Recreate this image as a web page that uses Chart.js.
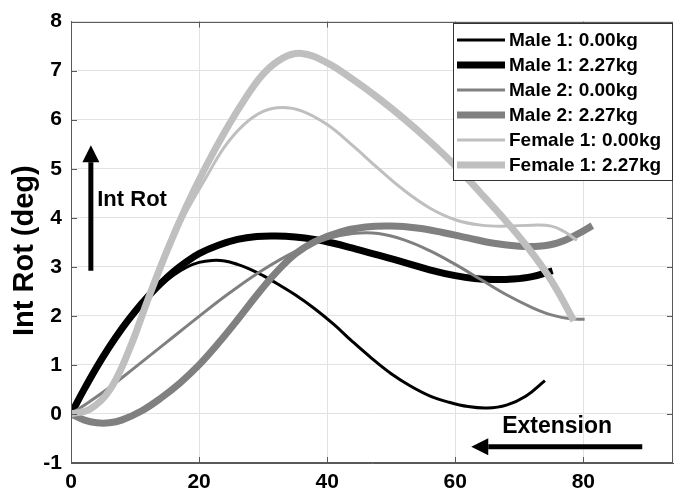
<!DOCTYPE html>
<html><head><meta charset="utf-8">
<script src="https://cdn.jsdelivr.net/npm/chart.js@4/dist/chart.umd.min.js"></script>
<style>html,body{margin:0;padding:0;background:#fff}#wrap{width:683px;height:496px}</style>
</head><body><div id="wrap"><canvas id="c" width="683" height="496"></canvas></div>
<script>
// ---- data ----
const seriesLabels = ['Male 1: 0.00kg','Male 1: 2.27kg','Male 2: 0.00kg','Male 2: 2.27kg','Female 1: 0.00kg','Female 1: 2.27kg'];
const yAxisTitle = 'Int Rot (deg)';

const male1_0_x = [0,2,4,6,8,10,12,14,16,18,20,22,24,26,28,30,32,35,38,41,44,47,50,53,56,59,62,65,68,71,74];
const male1_0_y = [0,0.47,0.92,1.34,1.72,2.06,2.36,2.62,2.83,2.99,3.09,3.13,3.12,3.05,2.95,2.82,2.67,2.43,2.15,1.83,1.47,1.13,0.82,0.57,0.37,0.24,0.15,0.12,0.18,0.36,0.68];

const male1_227_x = [0,2,4,6,8,10,12,14,16,18,20,23,26,29,32,35,38,41,44,48,52,56,60,63,66,69,72,75.2];
const male1_227_y = [0,0.49,0.95,1.37,1.75,2.09,2.39,2.66,2.9,3.1,3.27,3.44,3.56,3.62,3.63,3.61,3.56,3.48,3.38,3.24,3.09,2.94,2.82,2.76,2.74,2.75,2.8,2.92];

const male2_0_x = [0,3,6,10,15,20,25,30,35,40,44,48,52,56,60,64,68,72,75,78,80.2];
const male2_0_y = [0,0.26,0.54,0.95,1.47,1.99,2.49,2.94,3.31,3.57,3.68,3.68,3.55,3.33,3.05,2.74,2.43,2.17,2.02,1.94,1.93];

const male2_227_x = [0,2,4,6,8,11,14,17,20,23,26,29,32,35,38,42,46,50,54,58,62,66,70,73,76,79,81.4];
const male2_227_y = [0,-0.12,-0.18,-0.18,-0.12,0.06,0.32,0.63,1.0,1.44,1.92,2.42,2.88,3.26,3.51,3.71,3.81,3.83,3.79,3.7,3.59,3.48,3.42,3.42,3.49,3.66,3.84];

const female1_0_x = [0,3,6,9,12,15,18,21,24,27,30,33,36,40,44,48,52,56,60,64,68,72,75,77,79];
const female1_0_y = [0,0.1,0.48,1.28,2.33,3.33,4.12,4.8,5.45,5.9,6.17,6.25,6.18,5.9,5.47,5.0,4.56,4.2,3.96,3.85,3.83,3.85,3.83,3.72,3.54];

const female1_227_x = [0,3,6,9,12,15,18,21,24,27,30,33,36,40,44,48,52,56,60,64,68,71,74,76,78.5];
const female1_227_y = [0,0.1,0.48,1.28,2.33,3.33,4.23,5.03,5.75,6.39,6.93,7.25,7.35,7.16,6.82,6.44,6.02,5.56,5.06,4.5,3.92,3.45,2.92,2.5,1.9];

const xTicks = [0,20,40,60,80];
const yTicks = [-1,0,1,2,3,4,5,6,7,8];

// ---- styling ----
const FONT = "'Liberation Sans', Arial, Helvetica, sans-serif";
const seriesX = [male1_0_x, male1_227_x, male2_0_x, male2_227_x, female1_0_x, female1_227_x];
const seriesY = [male1_0_y, male1_227_y, male2_0_y, male2_227_y, female1_0_y, female1_227_y];
const colors = ['#000000','#000000','#808080','#808080','#bfbfbf','#bfbfbf'];
const widths = [3,7,3,7,3,7];

const datasets = seriesLabels.map((lab,i)=>({
  label: lab,
  data: seriesX[i].map((xv,j)=>({x:xv, y:seriesY[i][j]})),
  borderColor: colors[i],
  backgroundColor: colors[i],
  borderWidth: widths[i],
  pointRadius: 0,
  tension: 0.4,
  fill: false,
  order: 6 - i,
  borderCapStyle: 'butt',
  borderJoinStyle: 'round'
}));

function arrow(ctx, x0, y0, x1, y1, shaft, headLen, headHalf){
  const ang = Math.atan2(y1-y0, x1-x0);
  const bx = x1 - Math.cos(ang)*headLen, by = y1 - Math.sin(ang)*headLen;
  ctx.save();
  ctx.strokeStyle = '#000'; ctx.fillStyle = '#000';
  ctx.lineWidth = shaft; ctx.lineCap = 'butt';
  ctx.beginPath(); ctx.moveTo(x0,y0); ctx.lineTo(bx,by); ctx.stroke();
  ctx.beginPath();
  ctx.moveTo(x1,y1);
  ctx.lineTo(bx + Math.sin(ang)*headHalf, by - Math.cos(ang)*headHalf);
  ctx.lineTo(bx - Math.sin(ang)*headHalf, by + Math.cos(ang)*headHalf);
  ctx.closePath(); ctx.fill();
  ctx.restore();
}

const deco = {
  id: 'deco',
  afterDraw(chart){
    const {ctx, chartArea:a, scales:{x, y}} = chart;
    ctx.save();
    // box
    ctx.strokeStyle = '#5a5a5a'; ctx.lineWidth = 1;
    ctx.strokeRect(Math.round(a.left)+0.5, Math.round(a.top)+0.5, Math.round(a.right-a.left)-1, Math.round(a.bottom-a.top)-1);
    // inward tick marks
    ctx.beginPath();
    yTicks.forEach(v=>{
      const p = Math.round(y.getPixelForValue(v))+0.5;
      ctx.moveTo(a.left, p); ctx.lineTo(a.left+6, p);
      ctx.moveTo(a.right, p); ctx.lineTo(a.right-6, p);
    });
    xTicks.forEach(v=>{
      const p = Math.round(x.getPixelForValue(v))+0.5;
      ctx.moveTo(p, a.bottom); ctx.lineTo(p, a.bottom-6);
      ctx.moveTo(p, a.top); ctx.lineTo(p, a.top+6);
    });
    ctx.stroke();

    // y axis title
    ctx.save();
    ctx.translate(25, y.getPixelForValue(3.33));
    ctx.rotate(-Math.PI/2);
    ctx.fillStyle = '#000';
    ctx.font = 'bold 29px ' + FONT;
    ctx.textAlign = 'center'; ctx.textBaseline = 'middle';
    ctx.fillText(yAxisTitle, 0, 0);
    ctx.restore();

    // annotations
    arrow(ctx, x.getPixelForValue(3.1), y.getPixelForValue(2.92), x.getPixelForValue(3.1), y.getPixelForValue(5.48), 5, 17, 8.5);
    arrow(ctx, x.getPixelForValue(89.2), y.getPixelForValue(-0.67), x.getPixelForValue(62.5), y.getPixelForValue(-0.67), 5, 17, 8.5);
    ctx.fillStyle = '#000';
    ctx.font = 'bold 22px ' + FONT;
    ctx.textBaseline = 'middle';
    ctx.textAlign = 'left';
    ctx.fillText('Int Rot', x.getPixelForValue(4.1), y.getPixelForValue(4.36));
    ctx.textAlign = 'center';
    ctx.font = 'bold 23px ' + FONT;
    ctx.fillText('Extension', x.getPixelForValue(75.9), y.getPixelForValue(-0.25));

    // legend
    const lw = 219, lh = 157;
    const lx = Math.round(a.right) - lw - 1, ly = Math.round(a.top) + 1;
    ctx.fillStyle = '#fff';
    ctx.fillRect(lx, ly, lw, lh);
    ctx.strokeStyle = '#333'; ctx.lineWidth = 1;
    ctx.strokeRect(lx+0.5, ly+0.5, lw, lh);
    ctx.font = 'bold 19px ' + FONT;
    ctx.textAlign = 'left'; ctx.textBaseline = 'middle';
    chart.data.datasets.forEach((ds,i)=>{
      const ry = ly + 17 + i*25;
      ctx.strokeStyle = ds.borderColor; ctx.lineWidth = ds.borderWidth; ctx.lineCap='butt';
      ctx.beginPath(); ctx.moveTo(lx+4, ry); ctx.lineTo(lx+52, ry); ctx.stroke();
      ctx.fillStyle = '#000';
      ctx.fillText(ds.label, lx+56, ry+1);
    });
    ctx.restore();
  }
};

new Chart(document.getElementById('c'), {
  type: 'line',
  data: { datasets },
  plugins: [deco],
  options: {
    responsive: false,
    animation: false,
    layout: { padding: { left: 0, right: 10, top: 14, bottom: 0 } },
    plugins: { legend: { display: false }, tooltip: { enabled: false } },
    scales: {
      x: {
        type: 'linear', min: 0, max: 94,
        afterBuildTicks(s){ s.ticks = xTicks.map(v=>({value:v})); },
        afterFit(s){ s.height = 33; },
        ticks: { padding: 7, color: '#000', font: { family: FONT, size: 21, weight: 'bold' }, maxRotation: 0, autoSkip: false },
        grid: { color: '#e2e2e2', drawTicks: false, lineWidth: 1 },
        border: { display: true, color: '#5a5a5a', width: 1 }
      },
      y: {
        type: 'linear', min: -1, max: 8,
        afterBuildTicks(s){ s.ticks = yTicks.map(v=>({value:v})); },
        afterFit(s){ s.width = 71; },
        ticks: { padding: 9, color: '#000', font: { family: FONT, size: 21, weight: 'bold' }, autoSkip: false },
        grid: { color: '#e2e2e2', drawTicks: false, lineWidth: 1 },
        border: { display: true, color: '#5a5a5a', width: 1 }
      }
    }
  }
});
</script>
</body></html>
